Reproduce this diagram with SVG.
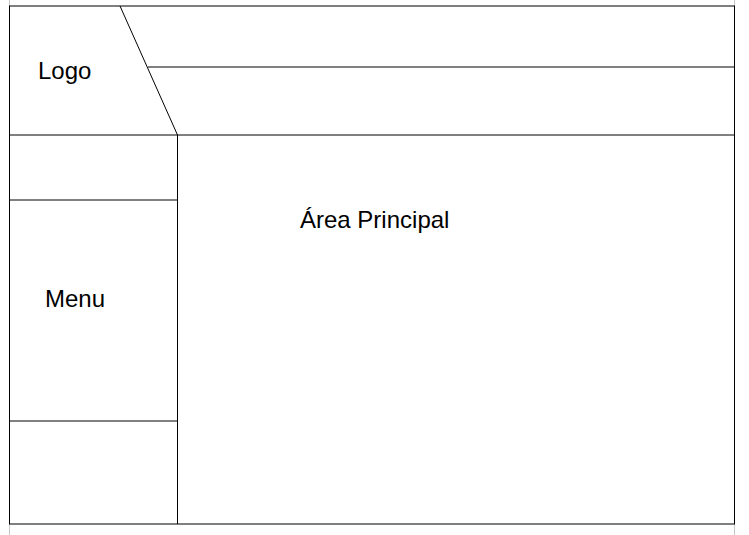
<svg xmlns="http://www.w3.org/2000/svg" width="749" height="535" viewBox="0 0 749 535">
<style>
.ln{stroke:#000;stroke-width:1;fill:none}
.pg{stroke:#c8c8c8;stroke-width:1;fill:none}
.t{font-family:"Liberation Sans",Arial,sans-serif;font-size:24px;fill:#000}
</style>
<rect width="749" height="535" fill="#fff"/>
<g id="page">
<line class="pg" x1="9.5" y1="0" x2="9.5" y2="535"/>
<line class="pg" x1="734.5" y1="0" x2="734.5" y2="535"/>
</g>
<g id="connectors">
<rect class="ln" x="9.5" y="6" width="725" height="518"/>
<line class="ln" x1="120" y1="6" x2="177.5" y2="135"/>
<line class="ln" x1="148" y1="67" x2="734.5" y2="67"/>
<line class="ln" x1="9.5" y1="135" x2="734.5" y2="135"/>
<line class="ln" x1="177.5" y1="135" x2="177.5" y2="524"/>
<line class="ln" x1="9.5" y1="200" x2="177.5" y2="200"/>
<line class="ln" x1="9.5" y1="421" x2="177.5" y2="421"/>
</g>
<g id="logo"><text class="t" x="38" y="79">Logo</text></g>
<g id="menu"><text class="t" x="45" y="307">Menu</text></g>
<g id="area"><text class="t" x="300" y="228">Área Principal</text></g>
</svg>
